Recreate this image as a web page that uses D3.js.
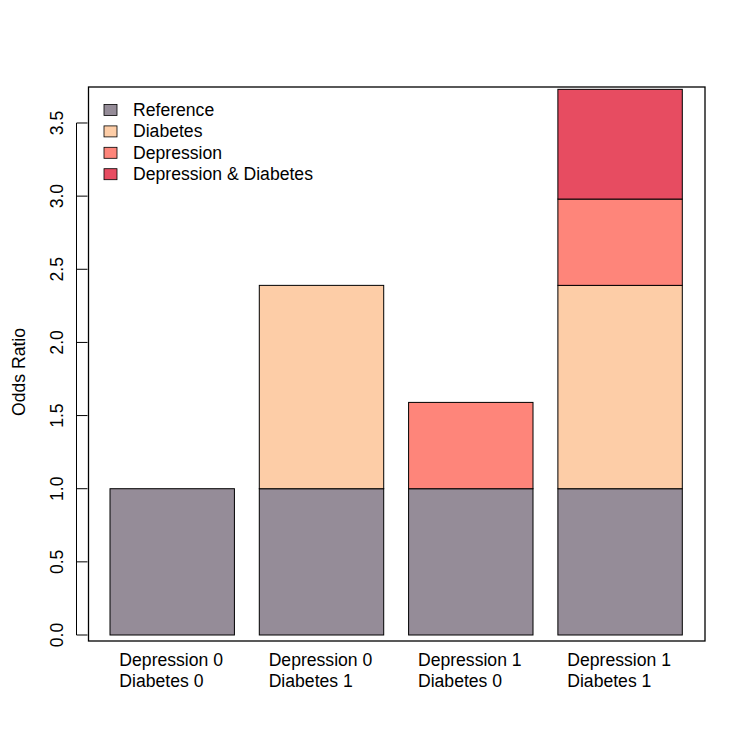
<!DOCTYPE html>
<html>
<head>
<meta charset="utf-8">
<script src="https://cdn.jsdelivr.net/npm/d3@7"></script>
<style>
  body { margin: 0; background: #fff; }
  svg text { font-family: "Liberation Sans", Arial, sans-serif; fill: #000; }
</style>
</head>
<body>
<div id="chart"></div>
<script>
// groups (x categories), two label lines each
const groups = [
  ["Depression 0", "Diabetes 0"],
  ["Depression 0", "Diabetes 1"],
  ["Depression 1", "Diabetes 0"],
  ["Depression 1", "Diabetes 1"]
];
const seriesNames = ["Reference", "Diabetes", "Depression", "Depression & Diabetes"];
const seriesColors = ["#958C98", "#FDCDA7", "#FE857A", "#E74C61"];
// stacked segments per group, in series order
const reference   = [1, 1, 1, 1];
const diabetes    = [0, 1.39, 0, 1.39];
const depression  = [0, 0, 0.59, 0.59];
const interaction = [0, 0, 0, 0.75];
const yTicks = [0, 0.5, 1, 1.5, 2, 2.5, 3, 3.5];

const W = 750, H = 750;
const box = {left: 88.5, right: 705, top: 87, bottom: 641};
const fs = 17.6;

const svg = d3.select('#chart').append('svg')
  .attr('width', W).attr('height', H);

// R-style barplot coordinates: width 1, space 0.2
const x = d3.scaleLinear().domain([0.2, 4.8]).range([110, 682.3]);
const y = d3.scaleLinear().domain([-0.041, 3.746]).range([box.bottom, box.top]);

const table = groups.map((g, i) => ({
  i,
  Reference: reference[i],
  Diabetes: diabetes[i],
  Depression: depression[i],
  'Depression & Diabetes': interaction[i]
}));
const stacked = d3.stack().keys(seriesNames)(table);
const color = d3.scaleOrdinal().domain(seriesNames).range(seriesColors);

// bars
stacked.forEach(layer => {
  svg.append('g')
    .selectAll('rect')
    .data(layer.filter(d => d[1] - d[0] > 0))
    .enter().append('rect')
    .attr('x', d => x(0.2 + 1.2 * d.data.i))
    .attr('width', d => x(1.2 + 1.2 * d.data.i) - x(0.2 + 1.2 * d.data.i))
    .attr('y', d => y(d[1]))
    .attr('height', d => y(d[0]) - y(d[1]))
    .attr('fill', color(layer.key))
    .attr('stroke', '#000')
    .attr('stroke-width', 1);
});

// plot box
svg.append('rect')
  .attr('x', box.left).attr('y', box.top)
  .attr('width', box.right - box.left).attr('height', box.bottom - box.top)
  .attr('fill', 'none').attr('stroke', '#000').attr('stroke-width', 1.3);

// y axis (R style: rotated labels, line spanning ticks)
const yAxis = svg.append('g');
yAxis.append('line')
  .attr('x1', box.left - 12).attr('x2', box.left - 12)
  .attr('y1', y(0)).attr('y2', y(3.5))
  .attr('stroke', '#000');
yAxis.selectAll('.tick')
  .data(yTicks)
  .enter().append('line')
  .attr('x1', box.left - 12).attr('x2', box.left - 1)
  .attr('y1', d => y(d)).attr('y2', d => y(d))
  .attr('stroke', '#000');
yAxis.selectAll('.lab')
  .data(yTicks)
  .enter().append('text')
  .attr('transform', d => `translate(63,${y(d)}) rotate(-90)`)
  .attr('text-anchor', 'middle')
  .attr('font-size', fs)
  .text(d => d.toFixed(1));

svg.append('text')
  .attr('transform', `translate(25,372) rotate(-90)`)
  .attr('text-anchor', 'middle')
  .attr('font-size', fs)
  .text('Odds Ratio');

// x labels: two lines, block centred under each bar, lines left aligned
groups.forEach((g, i) => {
  const cx = x(0.7 + 1.2 * i) - 1;
  const t = svg.append('text').attr('font-size', fs);
  g.forEach((line, k) => {
    t.append('tspan').attr('y', 666 + k * 20.7).text(line);
  });
  const wmax = d3.max(t.selectAll('tspan').nodes(), n => n.getComputedTextLength());
  t.selectAll('tspan').attr('x', cx - wmax / 2);
});

// legend
const legend = svg.append('g');
seriesNames.forEach((name, k) => {
  const cy = 110 + k * 21.4;
  legend.append('rect')
    .attr('x', 104).attr('y', cy - 5.5)
    .attr('width', 13).attr('height', 11)
    .attr('fill', seriesColors[k])
    .attr('stroke', '#000').attr('stroke-width', 0.8);
  legend.append('text')
    .attr('x', 133).attr('y', cy + 6)
    .attr('font-size', fs)
    .text(name);
});
</script>
</body>
</html>
